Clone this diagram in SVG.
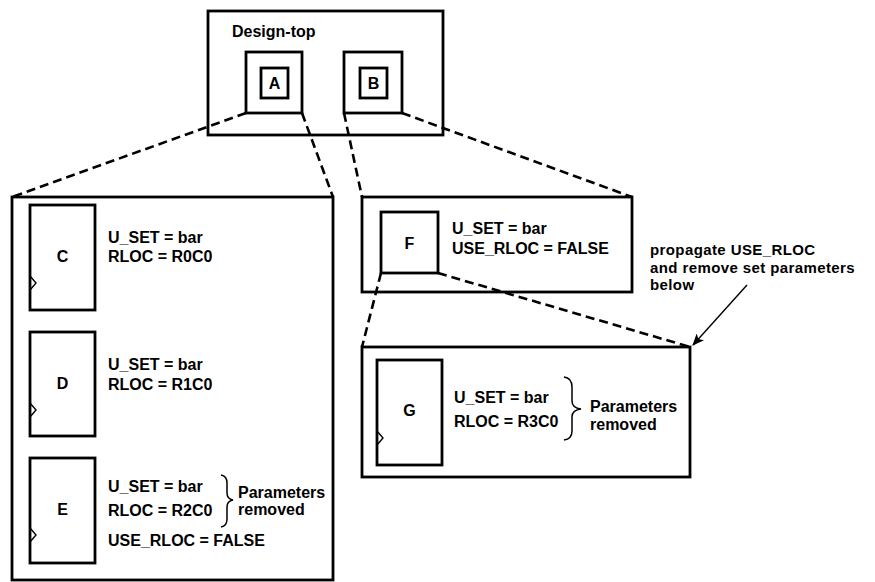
<svg xmlns="http://www.w3.org/2000/svg" width="875" height="582" viewBox="0 0 875 582">
<style>
.box{fill:none;stroke:#000;stroke-width:2.8}
.clk{fill:none;stroke:#000;stroke-width:1.4}
.dash{fill:none;stroke:#000;stroke-width:2.6;stroke-dasharray:9 5}
.brace{fill:none;stroke:#000;stroke-width:1.5}
text{font-family:"Liberation Sans",Arial,sans-serif;font-weight:bold;font-size:16px;fill:#000}
.c{text-anchor:middle}
.note{font-size:15px;letter-spacing:0.4px}
</style>
<defs>
<marker id="ah" markerWidth="12" markerHeight="10" refX="11" refY="5" orient="auto" markerUnits="userSpaceOnUse">
<path d="M0,0 L12,5 L0,10 L3,5 Z" fill="#000"/>
</marker>
</defs>
<rect width="875" height="582" fill="#fff"/>
<g id="design-top">
<rect class="box" x="208" y="11" width="235" height="124"/>
<text x="232" y="37">Design-top</text>
</g>
<g id="A">
<rect class="box" x="246" y="52" width="56" height="61"/>
<rect class="box" x="261" y="68" width="27" height="30"/>
<text class="c" x="274.5" y="89">A</text>
</g>
<g id="B">
<rect class="box" x="344" y="52" width="58" height="61"/>
<rect class="box" x="360" y="68" width="27" height="30"/>
<text class="c" x="373.5" y="89">B</text>
</g>
<g id="A-contents">
<rect class="box" x="12" y="197" width="321" height="383"/>
</g>
<g id="C">
<rect class="box" x="30" y="205" width="65" height="105"/>
<path class="clk" d="M30,276 L36,283 L30,290"/>
<text class="c" x="62.5" y="262">C</text>
<text x="108" y="243">U_SET = bar</text>
<text x="108" y="262">RLOC = R0C0</text>
</g>
<g id="D">
<rect class="box" x="30" y="332" width="65" height="104"/>
<path class="clk" d="M30,403 L36,410 L30,417"/>
<text class="c" x="62.5" y="389">D</text>
<text x="108" y="370">U_SET = bar</text>
<text x="108" y="390">RLOC = R1C0</text>
</g>
<g id="E">
<rect class="box" x="30" y="458" width="65" height="105"/>
<path class="clk" d="M30,528 L36,535 L30,542"/>
<text class="c" x="62.5" y="515">E</text>
<text x="108" y="492">U_SET = bar</text>
<text x="108" y="516">RLOC = R2C0</text>
<text x="108" y="546">USE_RLOC = FALSE</text>
<path class="brace" d="M221,475 Q227,476 227,483 L227,493 Q227,499 233,500 Q227,501 227,507 L227,519 Q227,526 221,527"/>
<text x="238" y="498">Parameters</text>
<text x="238" y="515">removed</text>
</g>
<g id="F">
<rect class="box" x="362" y="197" width="270" height="95"/>
<rect class="box" x="381" y="212" width="57" height="61"/>
<text class="c" x="409.5" y="249">F</text>
<text x="452" y="234">U_SET = bar</text>
<text x="452" y="254">USE_RLOC = FALSE</text>
</g>
<g id="G">
<rect class="box" x="362" y="347" width="328" height="130"/>
<rect class="box" x="377" y="360" width="65" height="105"/>
<path class="clk" d="M377,431 L383,438 L377,445"/>
<text class="c" x="409.5" y="416">G</text>
<text x="454" y="403">U_SET = bar</text>
<text x="454" y="427">RLOC = R3C0</text>
<path class="brace" d="M564,377 Q572,378 572,387 L572,401 Q572,408 581,409 Q572,410 572,417 L572,431 Q572,439 564,440"/>
<text x="590" y="412">Parameters</text>
<text x="590" y="430">removed</text>
</g>
<g id="note">
<text class="note" x="650" y="255"><tspan x="650" y="255">propagate USE_RLOC</tspan><tspan x="650" y="272.5">and remove set parameters</tspan><tspan x="650" y="290">below</tspan></text>
</g>
<g id="connectors">
<line class="dash" x1="246" y1="113" x2="12" y2="197"/>
<line class="dash" x1="302" y1="113" x2="333" y2="197"/>
<line class="dash" x1="344" y1="113" x2="362" y2="197"/>
<line class="dash" x1="402" y1="113" x2="632" y2="197"/>
<line class="dash" x1="381" y1="273" x2="362" y2="347"/>
<line class="dash" x1="438" y1="273" x2="690" y2="347"/>
<line x1="747" y1="285" x2="693" y2="345" stroke="#000" stroke-width="1.4" marker-end="url(#ah)"/>
</g>
</svg>
